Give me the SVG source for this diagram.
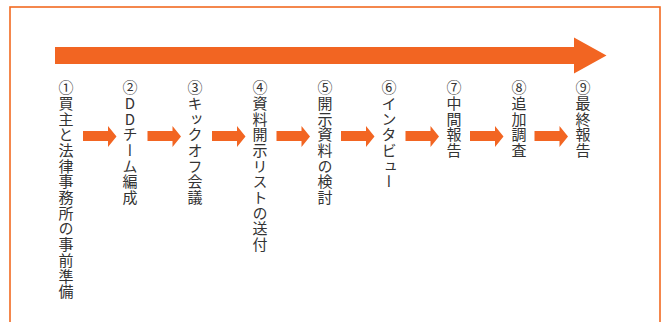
<svg xmlns="http://www.w3.org/2000/svg" width="663" height="322" viewBox="0 0 663 322">
<style>
.frame{fill:none;stroke:#F26A21;stroke-width:1.6}
.arr{fill:#F26522}
.lbl{font-family:"Noto Sans CJK JP","Noto Sans CJK SC",sans-serif;font-size:15px;fill:#333;writing-mode:vertical-rl;text-orientation:upright;letter-spacing:0.7px}
</style>
<rect class="frame" x="10" y="7" width="650" height="330"/>
<g id="connectors">
<polygon class="arr" points="55,47 574,47 574,37.5 606.5,55.5 574,73.5 574,64 55,64"/>
<polygon class="arr" points="83,131 108,131 108,126 116.5,136.5 108,147 108,141 83,141"/>
<polygon class="arr" points="147.5,131 172.5,131 172.5,126 181,136.5 172.5,147 172.5,141 147.5,141"/>
<polygon class="arr" points="212,131 237,131 237,126 245.5,136.5 237,147 237,141 212,141"/>
<polygon class="arr" points="276.5,131 301.5,131 301.5,126 310,136.5 301.5,147 301.5,141 276.5,141"/>
<polygon class="arr" points="341,131 366,131 366,126 374.5,136.5 366,147 366,141 341,141"/>
<polygon class="arr" points="405.5,131 430.5,131 430.5,126 439,136.5 430.5,147 430.5,141 405.5,141"/>
<polygon class="arr" points="470,131 495,131 495,126 503.5,136.5 495,147 495,141 470,141"/>
<polygon class="arr" points="534.5,131 559.5,131 559.5,126 568,136.5 559.5,147 559.5,141 534.5,141"/>
</g>
<g id="n1"><text class="lbl" x="66" y="80">①買主と法律事務所の事前準備</text></g>
<g id="n2"><text class="lbl" x="130" y="80">②DDチーム編成</text></g>
<g id="n3"><text class="lbl" x="195" y="80">③キックオフ会議</text></g>
<g id="n4"><text class="lbl" x="260" y="80">④資料開示リストの送付</text></g>
<g id="n5"><text class="lbl" x="325" y="80">⑤開示資料の検討</text></g>
<g id="n6"><text class="lbl" x="389" y="80">⑥インタビュー</text></g>
<g id="n7"><text class="lbl" x="454" y="80">⑦中間報告</text></g>
<g id="n8"><text class="lbl" x="519" y="80">⑧追加調査</text></g>
<g id="n9"><text class="lbl" x="583" y="80">⑨最終報告</text></g>
</svg>
